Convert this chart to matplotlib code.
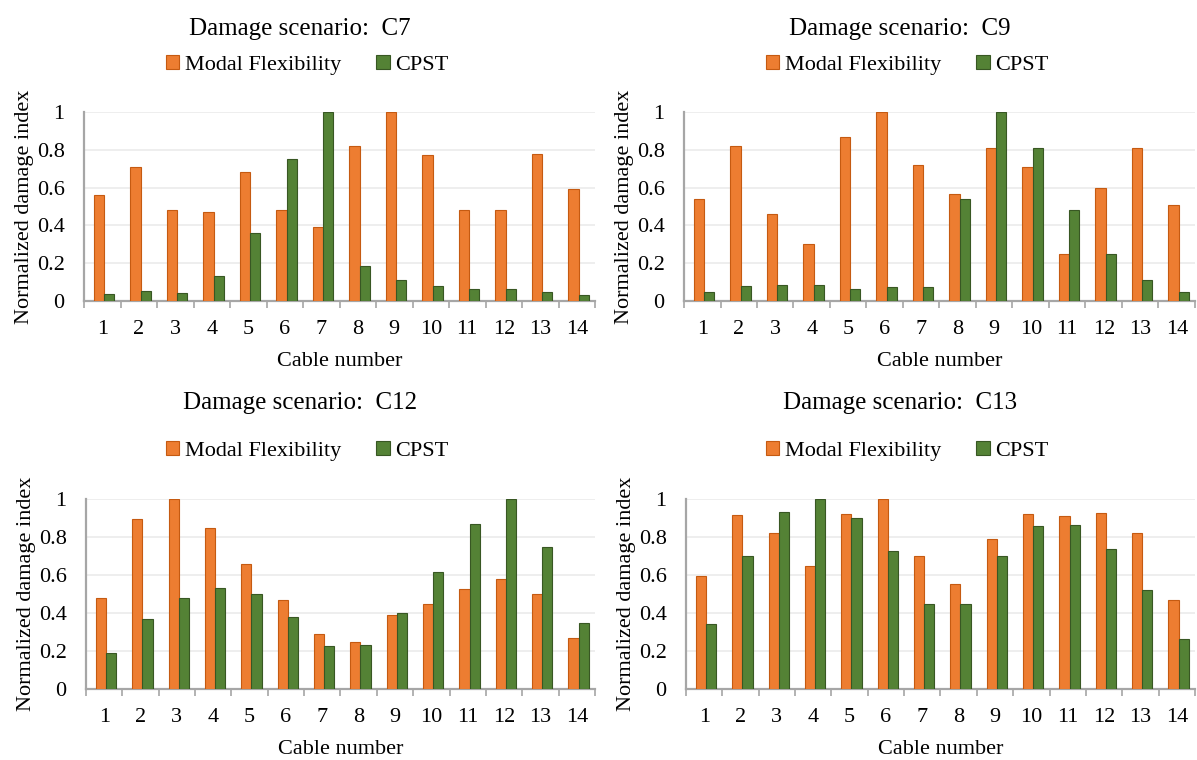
import matplotlib
matplotlib.use("Agg")
import matplotlib.pyplot as plt
import numpy as np

plt.rcParams["font.family"] = ["Liberation Serif", "DejaVu Serif"]

cables = list(range(1, 15))
series_names = ["Modal Flexibility", "CPST"]

c7_modal = [0.56, 0.71, 0.48, 0.47, 0.68, 0.48, 0.39, 0.82, 1.00, 0.77, 0.48, 0.48, 0.78, 0.59]
c7_cpst = [0.035, 0.053, 0.04, 0.13, 0.36, 0.75, 1.00, 0.186, 0.11, 0.08, 0.062, 0.066, 0.048, 0.034]

c9_modal = [0.54, 0.82, 0.46, 0.30, 0.867, 1.00, 0.717, 0.566, 0.81, 0.71, 0.25, 0.60, 0.81, 0.51]
c9_cpst = [0.05, 0.08, 0.085, 0.085, 0.064, 0.073, 0.076, 0.54, 1.00, 0.81, 0.48, 0.25, 0.11, 0.05]

c12_modal = [0.48, 0.894, 1.00, 0.85, 0.66, 0.47, 0.29, 0.25, 0.39, 0.445, 0.526, 0.58, 0.50, 0.266]
c12_cpst = [0.19, 0.37, 0.48, 0.53, 0.50, 0.38, 0.225, 0.23, 0.40, 0.618, 0.87, 1.00, 0.746, 0.35]

c13_modal = [0.597, 0.917, 0.82, 0.65, 0.92, 1.00, 0.70, 0.555, 0.79, 0.92, 0.91, 0.925, 0.82, 0.467]
c13_cpst = [0.34, 0.70, 0.933, 1.00, 0.90, 0.727, 0.45, 0.45, 0.70, 0.86, 0.865, 0.735, 0.52, 0.264]

scenarios = ["C7", "C9", "C12", "C13"]
panel_data = [(c7_modal, c7_cpst), (c9_modal, c9_cpst), (c12_modal, c12_cpst), (c13_modal, c13_cpst)]

ORANGE = "#ED7D31"
ORANGE_EDGE = "#C55A11"
GREEN = "#548235"
GREEN_EDGE = "#385723"
AXIS_GRAY = "#A6A6A6"
GRID = "#EBEBEB"

W, H = 1197, 760
# axes boxes in pixels: left, top, right, bottom
boxes = [
    (84, 112, 595, 301),
    (684, 112, 1195, 301),
    (86, 499, 595, 689),
    (686, 499, 1195, 689),
]
panel_centers = [300, 900, 300, 900]
title_y = [29, 29, 403, 403]
legend_y = [65, 65, 451, 451]


def draw_panel(fig, box, modal, cpst, scen, cx, ty, ly):
    l, t, r, b = box
    ax = fig.add_axes([l / W, 1 - b / H, (r - l) / W, (b - t) / H])
    x = np.array(cables, dtype=float)
    bw = 0.28
    ax.bar(x - bw / 2 + 0.05, modal, width=bw, color=ORANGE, edgecolor=ORANGE_EDGE,
           linewidth=0.8, label=series_names[0], zorder=3)
    ax.bar(x + bw / 2 + 0.05, cpst, width=bw, color=GREEN, edgecolor=GREEN_EDGE,
           linewidth=0.8, label=series_names[1], zorder=3)

    ax.set_xlim(0.5, 14.5)
    ax.set_ylim(0, 1.0)
    ax.set_yticks([0, 0.2, 0.4, 0.6, 0.8, 1.0])
    ax.set_yticklabels(["0", "0.2", "0.4", "0.6", "0.8", "1"])
    ax.set_xticks(cables)
    ax.set_xticks(np.arange(0.5, 15, 1), minor=True)
    ax.tick_params(axis="x", which="major", length=0, pad=14, labelsize=16)
    ax.tick_params(axis="x", which="minor", length=5, width=1.2, color=AXIS_GRAY)
    ax.tick_params(axis="y", length=0, pad=14, labelsize=16)
    ax.grid(axis="y", color=GRID, linewidth=1.2, zorder=0)
    ax.set_axisbelow(True)
    for side in ["top", "right"]:
        ax.spines[side].set_visible(False)
    for side in ["left", "bottom"]:
        ax.spines[side].set_color(AXIS_GRAY)
        ax.spines[side].set_linewidth(1.6)

    ax.set_xlabel("Cable number", fontsize=16, labelpad=9)
    ax.set_ylabel("Normalized damage index", fontsize=16, labelpad=2)

    fig.text(cx / W, 1 - ty / H, f"Damage scenario:  {scen}", fontsize=18,
             ha="center", va="center")
    handles, labels = ax.get_legend_handles_labels()
    fig.legend(handles, labels, loc="center", bbox_to_anchor=(cx / W + 0.006, 1 - ly / H),
               ncol=2, frameon=False, fontsize=16, handlelength=0.6, handleheight=0.6,
               handletextpad=0.25, columnspacing=1.6)
    return ax


def main() -> None:
    fig = plt.figure(figsize=(W / 100, H / 100), dpi=100)
    for i, (modal, cpst) in enumerate(panel_data):
        draw_panel(fig, boxes[i], modal, cpst, scenarios[i], panel_centers[i], title_y[i], legend_y[i])
    fig.savefig("out.png", dpi=100)
    plt.close(fig)


if __name__ == "__main__":
    main()
